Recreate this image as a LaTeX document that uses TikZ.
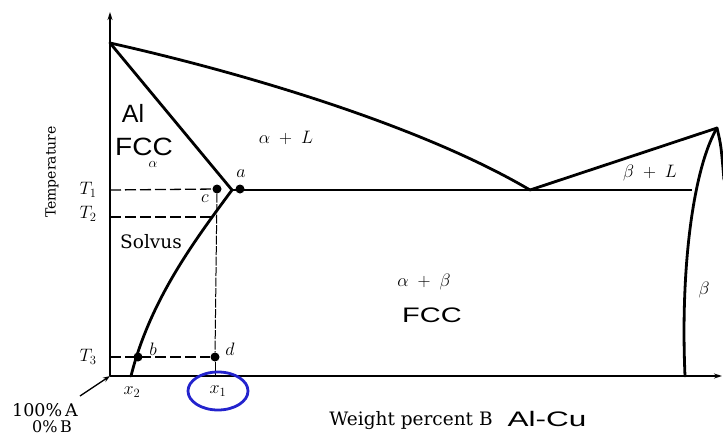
\RequirePackage{fix-cm}
\documentclass[tikz,border=0pt]{standalone}
\usepackage{fontspec}
\setmainfont{DejaVu Serif}
\newfontfamily\gsans{Liberation Sans}
\usetikzlibrary{arrows.meta}
\begin{document}
\begin{tikzpicture}[x=1pt,y=-1pt,
  curve/.style={line width=2.8pt, line join=round, line cap=round},
  axisline/.style={line width=1.6pt,-{Stealth[length=8pt,width=5pt]}},
  dashline/.style={line width=1.3pt, dash pattern=on 11pt off 4pt},
  thinline/.style={line width=1pt},
  vdash/.style={line width=1pt, dash pattern=on 9pt off 1.5pt},
  dot/.style={circle,fill=black,inner sep=0pt,minimum size=9pt},
  mlab/.style={inner sep=0pt,font=\fontsize{18}{18}\selectfont},
  slab/.style={inner sep=0pt,font=\fontsize{14}{14}\selectfont},
  bigsans/.style={inner sep=0pt,font=\gsans\fontsize{25}{25}\selectfont},
  midsans/.style={inner sep=0pt,font=\gsans\fontsize{21}{21}\selectfont},
  serif/.style={inner sep=0pt},
  ]
\useasboundingbox (0,0) rectangle (723,436);
% key points
\coordinate (O) at (110,376);
\coordinate (ytop) at (110,12);
\coordinate (xend) at (722,376);
\coordinate (TA) at (110,43);
\coordinate (V) at (232,190);
\coordinate (E) at (530,190);
\coordinate (TB) at (717,128);
\coordinate (Bt) at (692,190);
\coordinate (Bb) at (685,376);
\coordinate (Sb) at (131,376);
\coordinate (T1l) at (110,190);
\coordinate (T2l) at (110,217);
\coordinate (T2r) at (215,217);
\coordinate (T3l) at (110,357);
\coordinate (Xd) at (215,376);
\coordinate (arrowstart) at (80,396);
\coordinate (rightedge) at (724,180);
% axes
\draw[axisline] (O) -- (ytop);
\draw[axisline] (O) -- (xend);
% liquidus
\draw[curve] (TA) .. controls (240,72) and (420,125) .. (E);
\draw[curve] (E) -- (TB);
% solidus alpha
\draw[curve] (TA) -- (V);
% solvus
\draw[curve] (V) .. controls (195,240) and (150,300) .. (Sb);
% beta
\draw[curve] (TB) .. controls (695,165) and (680,260) .. (Bb);
\draw[curve] (TB) .. controls (721,145) .. (rightedge);
% eutectic line
\draw[line width=1.6pt] (V) -- (Bt);
% dots
\node[dot] (c) at (217,189) {};
\node[dot] (a) at (240,189) {};
\node[dot] (b) at (138,357) {};
\node[dot] (d) at (215,357) {};
% dashed lines
\draw[dashline] (T1l) -- (c);
\draw[dashline] (T2l) -- (T2r);
\draw[dashline] (T3l) -- (d);
\draw[vdash] (c) -- (d);
\draw[thinline] (d) -- (Xd);
% arrow from 100% A
\draw[line width=1.3pt,-{Stealth[length=7pt,width=5pt]}] (arrowstart) -- (O);
% labels
\node[mlab] (lT1) at (88,190) {$T_1$};
\node[mlab] (lT2) at (88,214) {$T_2$};
\node[mlab] (lT3) at (88,357) {$T_3$};
\node[serif,rotate=90,font=\fontsize{14}{14}\selectfont] (temp) at (52,172) {Temperature};
\node[bigsans] (Al) at (133,113) {Al};
\node[bigsans] (FCC1) at (144,147) {\scalebox{1.12}[1]{FCC}};
\node[slab] (alpha1) at (153,164) {$\alpha$};
\node[mlab] (aL) at (286,138) {$\alpha\;+\;L$};
\node[mlab] (bL) at (650,173) {$\beta\;+\;L$};
\node[mlab] (ab) at (424,282) {$\alpha\;+\;\beta$};
\node[midsans] (FCC2) at (432,315) {\scalebox{1.38}[1]{FCC}};
\node[mlab] (beta) at (704,290) {$\beta$};
\node[serif,font=\fontsize{18.5}{18.5}\selectfont] (solvus) at (151,242) {Solvus};
\node[mlab] (la) at (241,174) {$a$};
\node[mlab] (lc) at (205,199) {$c$};
\node[mlab] (lb) at (153,349) {$b$};
\node[mlab] (ld) at (230,349) {$d$};
\node[mlab] (x2) at (132,392) {$x_2$};
\node[mlab] (x1) at (218,391) {$x_1$};
\draw[line width=2.8pt, draw={rgb,255:red,35;green,35;blue,205}] (x1) ellipse [x radius=30pt, y radius=19pt];
\node[serif,font=\fontsize{17.5}{17.5}\selectfont] (A100) at (45,410) {100\%\,A};
\node[serif,font=\fontsize{16}{16}\selectfont] (B0) at (52,427) {0\%\,B};
\node[serif,font=\fontsize{18.5}{18.5}\selectfont] (wp) at (411,421) {Weight percent B};
\node[midsans] (alcu) at (547,419) {\scalebox{1.5}[1]{Al-Cu}};
\end{tikzpicture}
\end{document}
